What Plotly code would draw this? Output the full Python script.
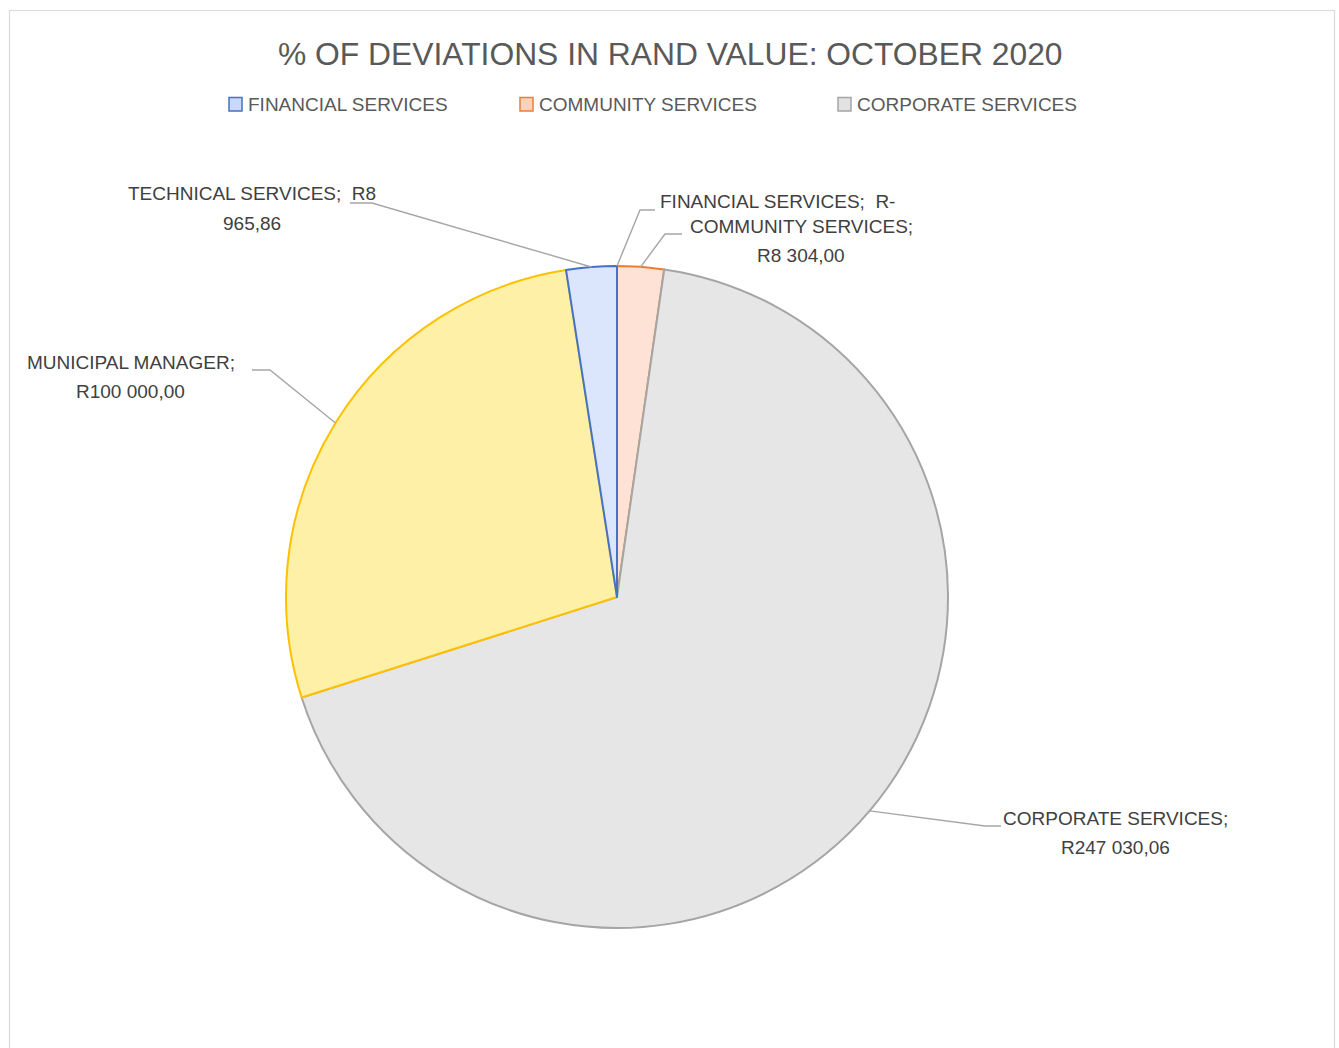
import math
import plotly.graph_objects as go

# Deviation values per department (Rand), in drawing order, clockwise from 12 o'clock
departments = [
    "FINANCIAL SERVICES",
    "COMMUNITY SERVICES",
    "CORPORATE SERVICES",
    "MUNICIPAL MANAGER",
    "TECHNICAL SERVICES",
]
deviation_rand = [0.00, 8304.00, 247030.06, 100000.00, 8965.86]

# Departments listed in the legend
legend_departments = ["FINANCIAL SERVICES", "COMMUNITY SERVICES", "CORPORATE SERVICES"]

TITLE = "% OF DEVIATIONS IN RAND VALUE: OCTOBER 2020"

# Styling
slice_fill = ["#dbe5fb", "#fde2d5", "#e6e6e6", "#fef0a6", "#dbe5fb"]
slice_edge = ["#4472C4", "#ED7D31", "#A5A5A5", "#FFC000", "#4472C4"]
legend_fill = {"FINANCIAL SERVICES": "#c9d9f7", "COMMUNITY SERVICES": "#fbd3bd",
               "CORPORATE SERVICES": "#e2e2e2"}
legend_edge = {"FINANCIAL SERVICES": "#4472C4", "COMMUNITY SERVICES": "#ED7D31",
               "CORPORATE SERVICES": "#A5A5A5"}

W, H = 1339, 1048
CX, CY, R = 617, 597, 331          # pie centre / radius in pixels
FONT = "Liberation Sans"
LABEL_SIZE = 19
LINE_GAP = 29.5
LEADER = "#a6a6a6"


def px(x):
    return x / W


def py(y):
    return 1 - y / H


def rand(v):
    if v == 0:
        return "R-"
    s = f"{v:,.2f}".replace(",", " ").replace(".", ",")
    return "R" + s


# Label placement: centre x, first line y, leader elbow, leader stub end, wrap mode
label_layout = {
    "FINANCIAL SERVICES": dict(cx=777.5, y=202, elbow=(640, 210), stub=(655, 210), mode="one"),
    "COMMUNITY SERVICES": dict(cx=801, y=226, elbow=(665, 234), stub=(682, 234), mode="two"),
    "CORPORATE SERVICES": dict(cx=1115, y=818, elbow=(985, 826), stub=(1001, 826), mode="two"),
    "MUNICIPAL MANAGER": dict(cx=130.5, y=362, elbow=(270, 370), stub=(252, 370), mode="two"),
    "TECHNICAL SERVICES": dict(cx=251.5, y=194, elbow=(372, 203), stub=(350, 203), mode="split"),
}

fig = go.Figure()

fig.add_trace(go.Pie(
    labels=departments,
    values=deviation_rand,
    sort=False,
    direction="clockwise",
    rotation=0,
    textinfo="none",
    hoverinfo="label+value",
    showlegend=False,
    marker=dict(colors=slice_fill, line=dict(color=slice_edge, width=2)),
    domain=dict(x=[px(CX - R), px(CX + R)], y=[py(CY + R), py(CY - R)]),
))

shapes = []
annotations = []

# Outer chart frame
shapes.append(dict(type="rect", xref="paper", yref="paper",
                   x0=px(9.5), x1=px(1334.5), y0=py(1060), y1=py(10.5),
                   line=dict(color="#d9d9d9", width=1.2), fillcolor="rgba(0,0,0,0)"))

# Data labels with leader lines to the middle of each slice
total = sum(deviation_rand)
cum = 0.0
for name, v in zip(departments, deviation_rand):
    frac = v / total
    mid = (cum + frac / 2) * 2 * math.pi
    cum += frac
    hx = CX + R * math.sin(mid)
    hy = CY - R * math.cos(mid)
    lay = label_layout[name]
    ex, ey = lay["elbow"]
    sx, sy = lay["stub"]
    shapes.append(dict(
        type="path", xref="paper", yref="paper",
        path=f"M {px(hx)} {py(hy)} L {px(ex)} {py(ey)} L {px(sx)} {py(sy)}",
        line=dict(color=LEADER, width=1.4),
    ))
    val = rand(v)
    if lay["mode"] == "one":
        lines = [f"{name};  {val}"]
    elif lay["mode"] == "split":
        head, tail = val.split(" ", 1)
        lines = [f"{name};  {head}", tail]
    else:
        lines = [f"{name};", val]
    for i, t in enumerate(lines):
        annotations.append(dict(
            x=px(lay["cx"]), y=py(lay["y"] + i * LINE_GAP), xref="paper", yref="paper",
            text=t, showarrow=False, xanchor="center", yanchor="middle",
            font=dict(family=FONT, size=LABEL_SIZE, color="#404040"),
        ))

# Legend row
legend_x = [229, 520, 838]
for name, x0 in zip(legend_departments, legend_x):
    shapes.append(dict(type="rect", xref="paper", yref="paper",
                       x0=px(x0), x1=px(x0 + 13), y0=py(111), y1=py(97.5),
                       line=dict(color=legend_edge[name], width=1.5),
                       fillcolor=legend_fill[name]))
    annotations.append(dict(
        x=px(x0 + 17), y=py(104.5), xref="paper", yref="paper",
        text=name, showarrow=False, xanchor="left", yanchor="middle",
        font=dict(family=FONT, size=LABEL_SIZE, color="#595959"),
    ))

# Title
annotations.append(dict(
    x=px(670.5), y=py(54), xref="paper", yref="paper",
    text=TITLE, showarrow=False, xanchor="center", yanchor="middle",
    font=dict(family=FONT, size=31.8, color="#595959"),
))

fig.update_layout(
    width=W, height=H,
    margin=dict(l=0, r=0, t=0, b=0),
    paper_bgcolor="white",
    plot_bgcolor="white",
    shapes=shapes,
    annotations=annotations,
)

fig.write_html("out.html")
